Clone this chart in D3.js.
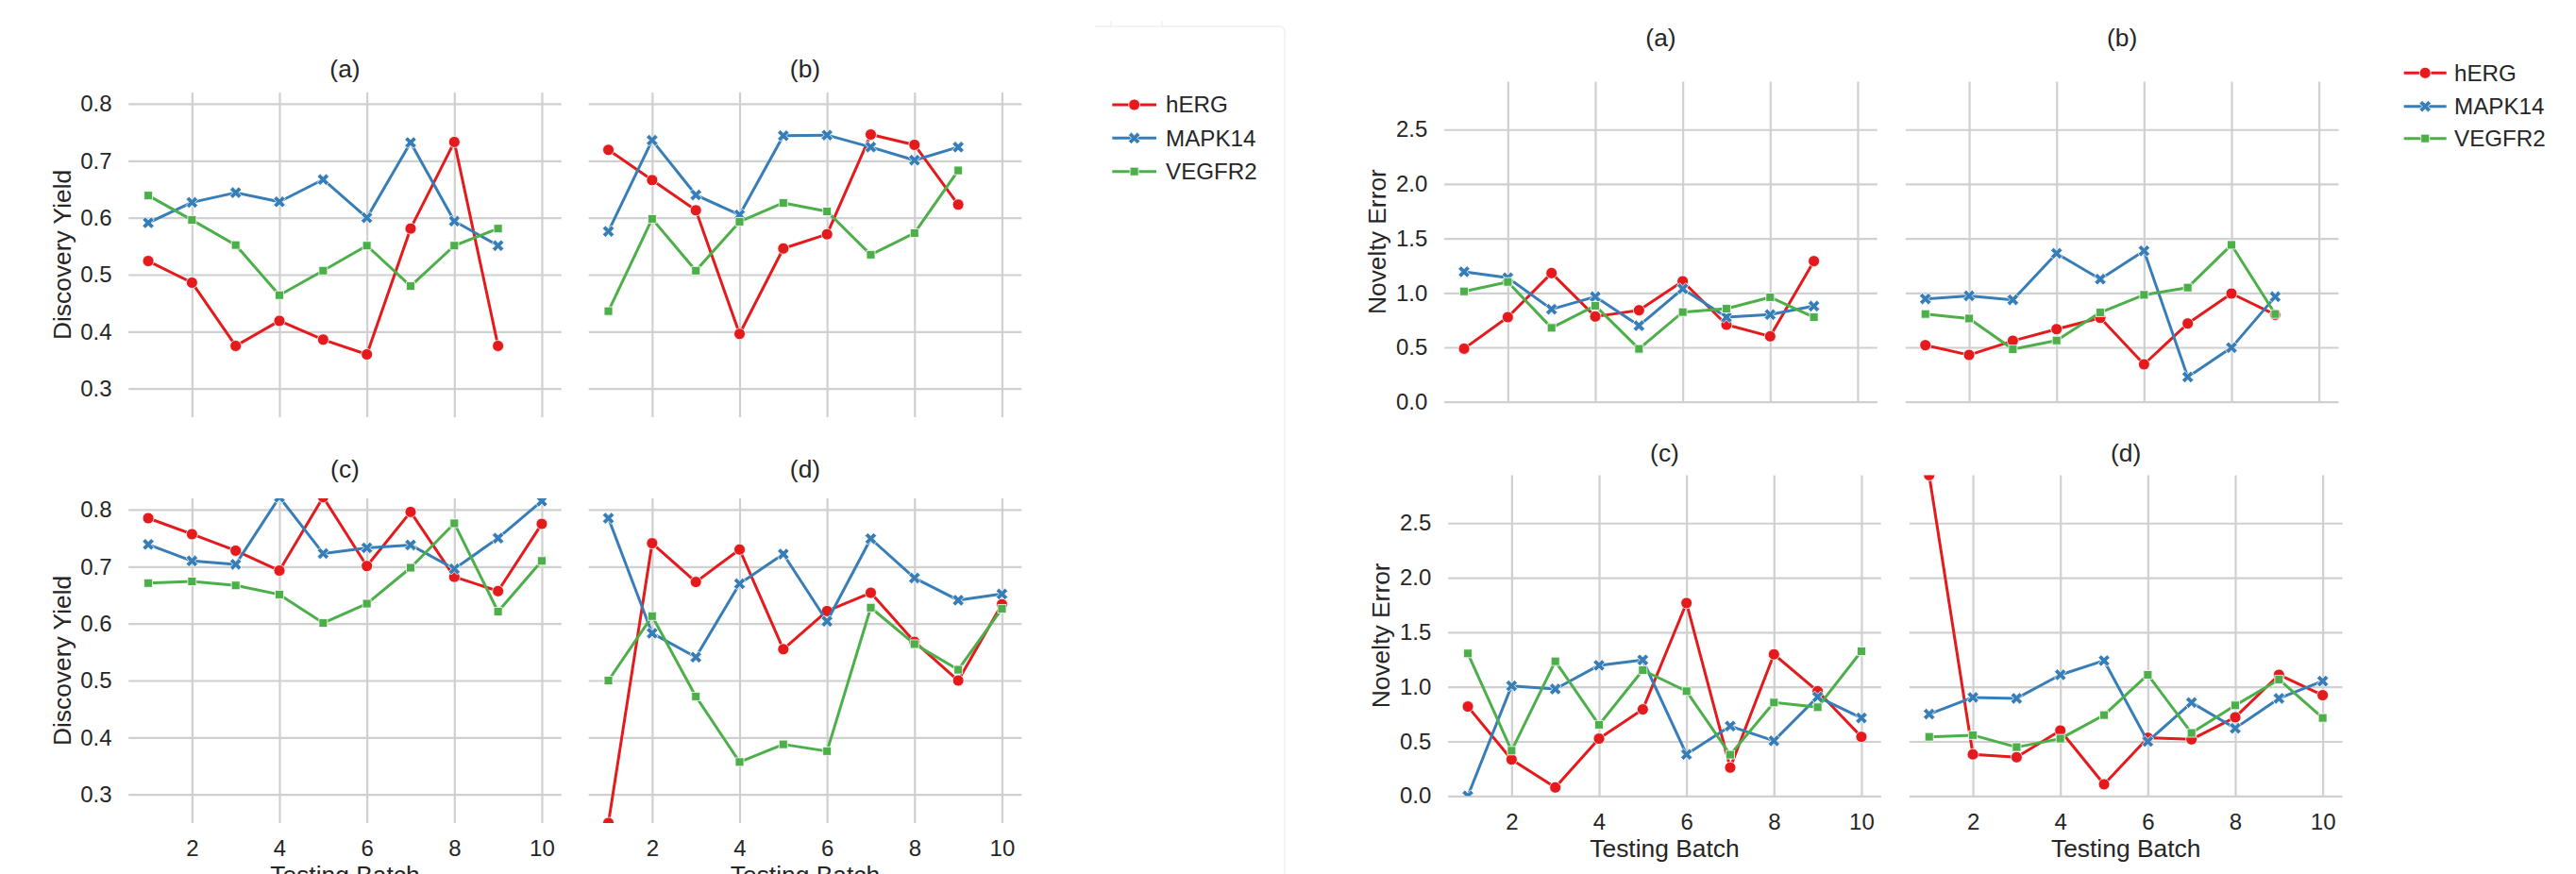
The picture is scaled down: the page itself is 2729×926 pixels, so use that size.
<!DOCTYPE html>
<html><head><meta charset="utf-8">
<script src="https://cdn.jsdelivr.net/npm/d3@7"></script>
<style>
body{margin:0;background:#fff}
svg{display:block}
text{font-family:"Liberation Sans",Arial,sans-serif;fill:#262626}
</style>
</head><body>
<svg id="chart" width="2729" height="926"></svg>
<script>
// ---------- data ----------
const batches = [1,2,3,4,5,6,7,8,9,10];
const targets = ["hERG","MAPK14","VEGFR2"];
const targetColors = ["#e41a1c","#377eb8","#4daf4a"];
const targetMarkers = ["circle","x","square"];
const panelLabels = ["(a)","(b)","(c)","(d)"];
const batchTicks = [2,4,6,8,10];
const yieldTicks = [0.3,0.4,0.5,0.6,0.7,0.8];
const errorTicks = [0.0,0.5,1.0,1.5,2.0,2.5];
const yieldDomain = [0.25, 0.82];
const errorDomain = [0.0, 2.94];

// Discovery Yield (left figure)
const yieldA_hERG   = [0.524,0.486,0.375,0.419,0.386,0.360,0.581,0.733,0.375];
const yieldA_MAPK14 = [0.591,0.627,0.644,0.628,0.667,0.600,0.732,0.594,0.551];
const yieldA_VEGFR2 = [0.639,0.596,0.552,0.464,0.507,0.551,0.480,0.551,0.581];
const yieldB_hERG   = [0.719,0.666,0.613,0.396,0.546,0.571,0.746,0.728,0.623];
const yieldB_MAPK14 = [0.576,0.736,0.640,0.605,0.744,0.745,0.724,0.701,0.724];
const yieldB_VEGFR2 = [0.436,0.598,0.507,0.593,0.626,0.611,0.535,0.573,0.683];
const yieldC_hERG   = [0.785,0.757,0.728,0.693,0.822,0.701,0.796,0.682,0.657,0.775];
const yieldC_MAPK14 = [0.739,0.710,0.704,0.822,0.723,0.733,0.738,0.696,0.750,0.815];
const yieldC_VEGFR2 = [0.671,0.674,0.667,0.651,0.601,0.635,0.698,0.776,0.621,0.710];
const yieldD_hERG   = [0.250,0.741,0.673,0.730,0.555,0.622,0.654,0.568,0.500,0.634];
const yieldD_MAPK14 = [0.785,0.583,0.541,0.670,0.722,0.604,0.749,0.680,0.641,0.652];
const yieldD_VEGFR2 = [0.500,0.613,0.472,0.357,0.388,0.376,0.628,0.564,0.519,0.626];

// Novelty Error (right figure)
const errorA_hERG   = [0.488,0.777,1.182,0.783,0.841,1.107,0.708,0.601,1.292];
const errorA_MAPK14 = [1.194,1.139,0.850,0.965,0.699,1.038,0.777,0.801,0.879];
const errorA_VEGFR2 = [1.014,1.101,0.679,0.882,0.486,0.824,0.855,0.960,0.777];
const errorB_hERG   = [0.520,0.430,0.560,0.667,0.771,0.344,0.719,0.994,0.800];
const errorB_MAPK14 = [0.945,0.973,0.936,1.363,1.127,1.386,0.228,0.497,0.965];
const errorB_VEGFR2 = [0.806,0.765,0.482,0.563,0.820,0.982,1.049,1.441,0.806];
const errorC_hERG   = [0.819,0.334,0.078,0.525,0.793,1.768,0.260,1.298,0.960,0.542];
const errorC_MAPK14 = [0.000,1.009,0.980,1.197,1.246,0.381,0.640,0.505,0.908,0.715];
const errorC_VEGFR2 = [1.306,0.415,1.234,0.652,1.153,0.960,0.378,0.856,0.813,1.326];
const errorD_hERG   = [2.940,0.381,0.355,0.600,0.107,0.533,0.519,0.721,1.110,0.923];
const errorD_MAPK14 = [0.750,0.903,0.894,1.110,1.240,0.499,0.856,0.620,0.894,1.052];
const errorD_VEGFR2 = [0.542,0.557,0.447,0.525,0.741,1.110,0.577,0.830,1.067,0.715];

// ---------- layout ----------
const svg = d3.select("#chart");
const FS_TICK = 24, FS_LABEL = 26.4, FS_TITLE = 26.4, FS_LEGEND = 24.2;

const figures = [
  {
    yLabel: "Discovery Yield", domain: yieldDomain, ticks: yieldTicks, fmt: d3.format(".1f"),
    cols: [[136.2,594.8],[623.7,1082.3]], colShiftBottom: 0,
    rows: [[97.9,441.9],[527.9,871.9]],
    titleY: [81.9, 506.2], yLabelX: [66, 66], xTickPad: 18, yTickPad: 17.7, xLabelGap: 55,
    data: [
      [yieldA_hERG, yieldA_MAPK14, yieldA_VEGFR2],
      [yieldB_hERG, yieldB_MAPK14, yieldB_VEGFR2],
      [yieldC_hERG, yieldC_MAPK14, yieldC_VEGFR2],
      [yieldD_hERG, yieldD_MAPK14, yieldD_VEGFR2]
    ],
    legend: {lineX0: 1178.3, lineX1: 1225, textX: 1235, ys: [111, 146.3, 181.7]}
  },
  {
    yLabel: "Novelty Error", domain: errorDomain, ticks: errorTicks, fmt: d3.format(".1f"),
    cols: [[1530.2,1988.8],[2018.9,2477.5]], colShiftBottom: 4,
    rows: [[86.5,425.7],[503.4,843.3]],
    titleY: [48.6, 488.6], yLabelX: [1458.5, 1463], xTickPad: 19, yTickPad: 17.9, xLabelGap: 55,
    data: [
      [errorA_hERG, errorA_MAPK14, errorA_VEGFR2],
      [errorB_hERG, errorB_MAPK14, errorB_VEGFR2],
      [errorC_hERG, errorC_MAPK14, errorC_VEGFR2],
      [errorD_hERG, errorD_MAPK14, errorD_VEGFR2]
    ],
    legend: {lineX0: 2546.7, lineX1: 2591.7, textX: 2600, ys: [77.3, 112.7, 146.7]}
  }
];

// faint frame separating the two figures
svg.append("path")
  .attr("d", "M1160,28 H1355 Q1361,28 1361,34 V926 M1177,22.5 V28 M1231,22.5 V28")
  .attr("fill","none").attr("stroke","#efefef").attr("stroke-width",1.5);

function markerPath(type){
  if(type==="x"){
    const s = 12.5;
    const pts = [[-0.25,-0.5],[0,-0.25],[0.25,-0.5],[0.5,-0.25],[0.25,0],[0.5,0.25],[0.25,0.5],[0,0.25],[-0.25,0.5],[-0.5,0.25],[-0.25,0],[-0.5,-0.25]];
    return "M" + pts.map(p => (p[0]*s).toFixed(2)+","+(p[1]*s).toFixed(2)).join("L") + "Z";
  }
  if(type==="square"){
    const h = 4.5;
    return `M${-h},${-h}H${h}V${h}H${-h}Z`;
  }
  return d3.symbol().type(d3.symbolCircle).size(Math.PI*6*6)();
}

let clipId = 0;
figures.forEach((fig, fi) => {
  for(let p=0; p<4; p++){
    const r = Math.floor(p/2), c = p%2;
    const shift = r===1 ? fig.colShiftBottom : 0;
    const x0 = fig.cols[c][0]+shift, x1 = fig.cols[c][1]+shift;
    const y0 = fig.rows[r][0], y1 = fig.rows[r][1];
    const x = d3.scaleLinear().domain([0.55,10.45]).range([x0,x1]);
    const y = d3.scaleLinear().domain(fig.domain).range([y1,y0]);

    const g = svg.append("g");

    // horizontal grid + y tick labels
    const yAx = d3.axisLeft(y).tickValues(fig.ticks).tickSize(-(x1-x0)).tickPadding(fig.yTickPad)
      .tickFormat(c===0 ? fig.fmt : () => "");
    const gy = g.append("g").attr("transform",`translate(${x0},0)`).call(yAx);
    gy.select(".domain").remove();
    gy.selectAll("line").attr("stroke","#d0d0d0").attr("stroke-width",2.2);
    gy.selectAll("text").attr("font-size",FS_TICK).attr("fill","#262626")
      .attr("font-family","Liberation Sans, Arial, sans-serif");
    gy.attr("font-family",null).attr("font-size",null);

    // vertical grid + x tick labels
    const xAx = d3.axisBottom(x).tickValues(batchTicks).tickSize(-(y1-y0)).tickPadding(fig.xTickPad)
      .tickFormat(r===1 ? d3.format("d") : () => "");
    const gx = g.append("g").attr("transform",`translate(0,${y1})`).call(xAx);
    gx.select(".domain").remove();
    gx.selectAll("line").attr("stroke","#d0d0d0").attr("stroke-width",2.2);
    gx.selectAll("text").attr("font-size",FS_TICK).attr("fill","#262626")
      .attr("font-family","Liberation Sans, Arial, sans-serif");
    gx.attr("font-family",null).attr("font-size",null);

    // clip
    const id = "clip"+(clipId++);
    svg.append("clipPath").attr("id",id).append("rect")
      .attr("x",x0).attr("y",y0).attr("width",x1-x0).attr("height",y1-y0);
    const plot = g.append("g").attr("clip-path",`url(#${id})`);

    fig.data[p].forEach((vals, si) => {
      const pts = vals.map((v,i) => ({b: batches[i], v}));
      plot.append("path").datum(pts)
        .attr("d", d3.line().x(d=>x(d.b)).y(d=>y(d.v)))
        .attr("fill","none").attr("stroke",targetColors[si]).attr("stroke-width",3)
        .attr("stroke-linejoin","round");
      plot.selectAll(null).data(pts).enter().append("path")
        .attr("d", markerPath(targetMarkers[si]))
        .attr("transform", d => `translate(${x(d.b)},${y(d.v)})`)
        .attr("fill",targetColors[si]).attr("stroke","#fff").attr("stroke-width",0.8);
    });

    // title
    g.append("text").attr("x",(x0+x1)/2).attr("y",fig.titleY[r])
      .attr("text-anchor","middle").attr("font-size",FS_TITLE).text(panelLabels[p]);

    // y label
    if(c===0){
      const yl = fig.yLabelX[r], yc = (y0+y1)/2;
      g.append("text").attr("transform",`translate(${yl},${yc}) rotate(-90)`)
        .attr("text-anchor","middle").attr("dy","0.35em").attr("font-size",FS_LABEL).text(fig.yLabel);
    }
    // x label (the left figure's one is cut by the page edge, as in the reference)
    if(r===1){
      g.append("text").attr("x",(x0+x1)/2).attr("y",y1+fig.xLabelGap)
        .attr("text-anchor","middle").attr("dy","0.35em").attr("font-size",FS_LABEL).text("Testing Batch");
    }
  }

  // legend
  const L = fig.legend;
  targets.forEach((t, si) => {
    const ly = L.ys[si];
    const lg = svg.append("g");
    lg.append("line").attr("x1",L.lineX0).attr("x2",L.lineX1).attr("y1",ly).attr("y2",ly)
      .attr("stroke",targetColors[si]).attr("stroke-width",3);
    lg.append("path").attr("d",markerPath(targetMarkers[si]))
      .attr("transform",`translate(${(L.lineX0+L.lineX1)/2},${ly})`)
      .attr("fill",targetColors[si]).attr("stroke","#fff").attr("stroke-width",0.8);
    lg.append("text").attr("x",L.textX).attr("y",ly).attr("dy","0.35em")
      .attr("font-size",FS_LEGEND).attr("fill","#000").text(t);
  });
});
</script>
</body></html>
